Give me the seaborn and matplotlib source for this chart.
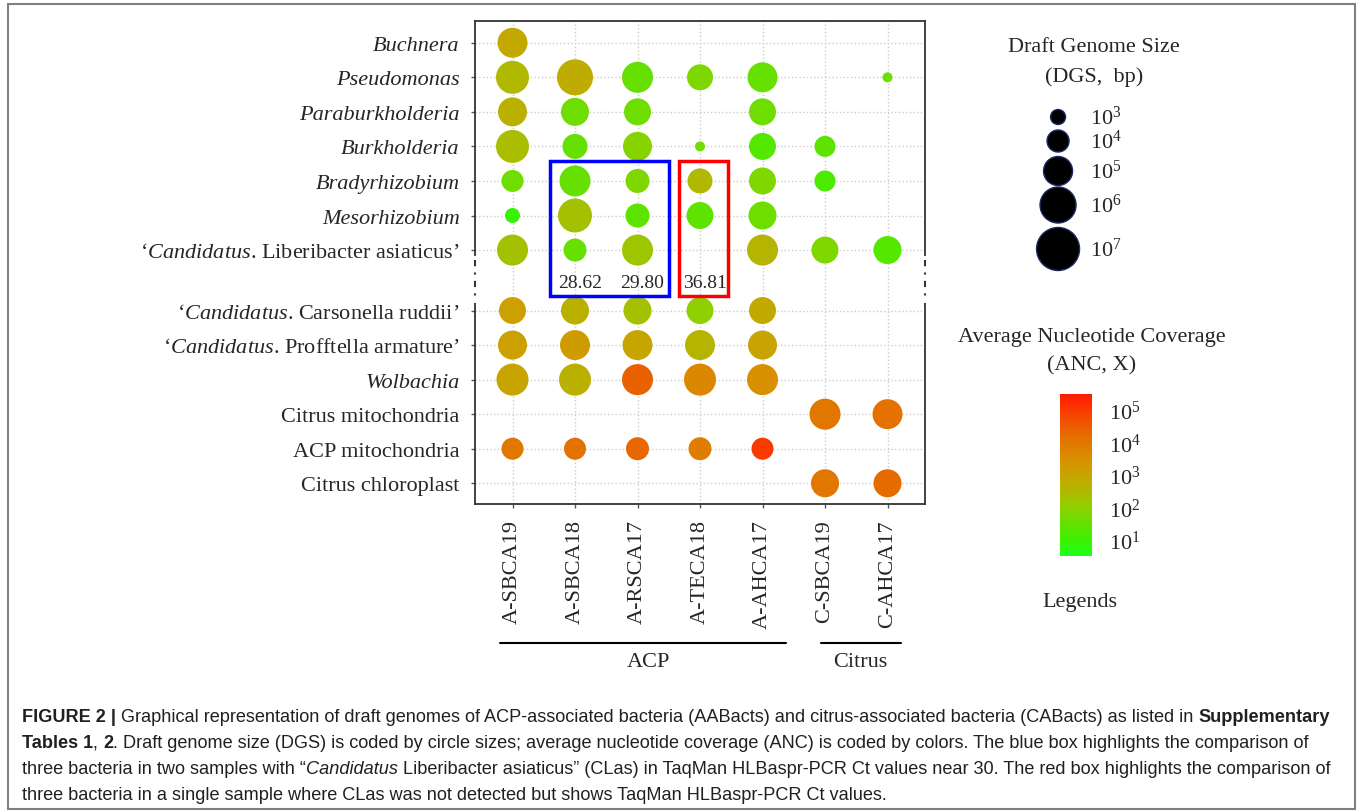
import matplotlib
matplotlib.use("Agg")
import matplotlib.pyplot as plt
import seaborn as sns
import pandas as pd
from matplotlib.colors import LinearSegmentedColormap, Normalize
from matplotlib.cm import ScalarMappable
from matplotlib.patches import Rectangle
from matplotlib.lines import Line2D

samples = ["A-SBCA19", "A-SBCA18", "A-RSCA17", "A-TECA18", "A-AHCA17", "C-SBCA19", "C-AHCA17"]
acp_samples = samples[:5]
citrus_samples = samples[5:]

bacteria = [
    "Buchnera",
    "Pseudomonas",
    "Paraburkholderia",
    "Burkholderia",
    "Bradyrhizobium",
    "Mesorhizobium",
    "‘$\\mathit{Candidatus}$. Liberibacter asiaticus’",
    "‘$\\mathit{Candidatus}$. Carsonella ruddii’",
    "‘$\\mathit{Candidatus}$. Profftella armature’",
    "Wolbachia",
    "Citrus mitochondria",
    "ACP mitochondria",
    "Citrus chloroplast",
]
italic_names = ["Buchnera", "Pseudomonas", "Paraburkholderia", "Burkholderia",
                "Bradyrhizobium", "Mesorhizobium", "Wolbachia"]

# log10 of draft genome size (bp), None = no draft genome
dgs_log = [
    [5.14, None, None, None, None, None, None],
    [5.57, 6.00, 5.29, 4.57, 5.14, None, 2.29],
    [5.00, 4.86, 4.71, None, 4.71, None, None],
    [5.57, 4.43, 5.00, 2.29, 4.71, 3.86, None],
    [4.00, 5.29, 4.29, 4.43, 4.71, 3.86, None],
    [3.00, 5.71, 4.29, 4.71, 4.86, None, None],
    [5.29, 4.14, 5.29, None, 5.29, 4.71, 4.86],
    [4.71, 4.86, 4.86, 4.71, 4.71, None, None],
    [5.00, 5.14, 5.14, 5.14, 5.00, None, None],
    [5.43, 5.43, 5.29, 5.43, 5.29, None, None],
    [None, None, None, None, None, 5.29, 5.14],
    [4.00, 4.00, 4.14, 4.14, 4.00, None, None],
    [None, None, None, None, None, 4.86, 4.86],
]

# log10 of average nucleotide coverage (X)
anc_log = [
    [2.9, None, None, None, None, None, None],
    [2.5, 2.8, 1.5, 1.8, 1.5, None, 1.6],
    [2.7, 1.6, 1.6, None, 1.6, None, None],
    [2.4, 1.5, 1.9, 1.6, 1.3, 1.4, None],
    [1.6, 1.5, 1.8, 2.5, 1.8, 1.2, None],
    [0.9, 2.3, 1.4, 1.4, 1.6, None, None],
    [2.3, 1.5, 2.2, None, 2.6, 1.8, 1.3],
    [3.1, 2.7, 2.3, 2.0, 2.9, None, None],
    [3.1, 3.2, 3.0, 2.6, 3.0, None, None],
    [3.0, 2.7, 4.4, 3.7, 3.5, None, None],
    [None, None, None, None, None, 4.0, 4.1],
    [4.0, 4.1, 4.3, 3.9, 5.0, None, None],
    [None, None, None, None, None, 4.0, 4.2],
]

ct_samples = ["A-SBCA18", "A-RSCA17", "A-TECA18"]
ct_values = ["28.62", "29.80", "36.81"]

dgs_legend = [3, 4, 5, 6, 7]
anc_ticks = [1, 2, 3, 4, 5]

W, H = 1358, 812


def fx(px):
    return px / W


def fy(py):
    return 1 - py / H


def size_pt2(v):
    # circle diameter grows with log10 genome size
    d = 15 + 7 * (v - 3)
    return (d * 0.72) ** 2


sns.set_style("white")
plt.rcParams["font.family"] = ["Liberation Serif", "DejaVu Serif"]
plt.rcParams["mathtext.fontset"] = "custom"
plt.rcParams["mathtext.rm"] = "Liberation Serif"
plt.rcParams["mathtext.it"] = "Liberation Serif:italic"
plt.rcParams["mathtext.bf"] = "Liberation Serif:bold"

cmap = LinearSegmentedColormap.from_list("anc", [
    (0.0, "#1cff1c"), (0.1, "#3cf000"), (0.2, "#66e000"), (0.3, "#90d000"),
    (0.4, "#b0b800"), (0.5, "#c8a400"), (0.6, "#d89000"), (0.7, "#e27800"),
    (0.8, "#ec5c00"), (0.9, "#fa3a00"), (1.0, "#ff1a00")])
anc_norm = Normalize(0.5, 5.5)


def row_pos(i):
    return i if i < 7 else i + 0.75


records = []
for i, name in enumerate(bacteria):
    for j, s in enumerate(samples):
        if dgs_log[i][j] is None:
            continue
        records.append({"bacterium": name, "sample": s, "x": j, "y": row_pos(i),
                        "dgs": dgs_log[i][j], "anc": anc_log[i][j]})
df = pd.DataFrame(records)

fig = plt.figure(figsize=(W / 100, H / 100), dpi=100)
ax = fig.add_axes([fx(475), fy(505), fx(925) - fx(475), fy(22) - fy(505)])

sizes = {v: size_pt2(v) for v in df["dgs"].unique()}
sns.scatterplot(data=df, x="x", y="y", hue="anc", size="dgs", palette=cmap,
                hue_norm=anc_norm, sizes=sizes, linewidth=0, legend=False,
                ax=ax, zorder=3)

ypos = [row_pos(i) for i in range(len(bacteria))]
ax.set_xlim(-0.6, len(samples) - 0.4)
ax.set_ylim(ypos[-1] + 0.6, -0.63)
ax.set_xticks(range(len(samples)))
ax.set_xticklabels(samples, rotation=90, fontsize=16)
ax.set_yticks(ypos)
ax.set_yticklabels(bacteria, fontsize=16)
for lab in ax.get_yticklabels():
    if lab.get_text() in italic_names:
        lab.set_fontstyle("italic")
ax.set_xlabel("")
ax.set_ylabel("")
ax.tick_params(axis="both", length=3, width=1, color="#555555", pad=8,
               bottom=True, left=True)
ax.grid(True, linestyle=":", color="#cccccc", linewidth=1)
ax.set_axisbelow(True)
for sp in ax.spines.values():
    sp.set_visible(True)
    sp.set_color("#333333")
    sp.set_linewidth(1.3)

# axis break marks on the left and right spines
def yfrac(py):
    return (505 - py) / (505 - 22)


for xa in (0, 1):
    ax.plot([xa, xa], [yfrac(259), yfrac(302)], color="white", lw=3,
            transform=ax.transAxes, clip_on=False, zorder=5)
    ax.plot([xa, xa], [yfrac(261), yfrac(300)], color="#333333", lw=1.5,
            linestyle=(0, (3, 3, 1, 3)), transform=ax.transAxes,
            clip_on=False, zorder=6)

# Ct values and highlight boxes
for s, v in zip(ct_samples, ct_values):
    ax.text(samples.index(s) + 0.08, 6.95, v, ha="center", va="center",
            fontsize=14, zorder=4)
ax.add_patch(Rectangle((0.6, 3.42), 1.9, 3.91, fill=False, edgecolor="#0000ff",
                       lw=2.5, zorder=4, clip_on=False))
ax.add_patch(Rectangle((2.66, 3.42), 0.79, 3.91, fill=False, edgecolor="#ff0000",
                       lw=2.5, zorder=4, clip_on=False))

# sample group brackets
fig.add_artist(Line2D([fx(500), fx(786)], [fy(644)] * 2, color="black", lw=1.5))
fig.add_artist(Line2D([fx(821), fx(901)], [fy(644)] * 2, color="black", lw=1.5))
fig.text(fx(648), fy(663), "ACP", ha="center", va="center", fontsize=16)
fig.text(fx(860), fy(663), "Citrus", ha="center", va="center", fontsize=16)

# genome size legend
fig.text(fx(1094), fy(47), "Draft Genome Size", ha="center", va="center", fontsize=16)
fig.text(fx(1094), fy(77), "(DGS,  bp)", ha="center", va="center", fontsize=16)
lax = fig.add_axes([fx(1030), fy(290), fx(1200) - fx(1030), fy(100) - fy(290)])
leg_y = [118, 142, 172, 206, 250]
leg_df = pd.DataFrame({"x": [0.165] * len(dgs_legend),
                       "y": [(290 - p) / 190 for p in leg_y],
                       "dgs": dgs_legend})
sns.scatterplot(data=leg_df, x="x", y="y", size="dgs",
                sizes={v: size_pt2(v) for v in dgs_legend}, color="black",
                edgecolor="#1c2a66", linewidth=1, legend=False, ax=lax,
                clip_on=False)
for yy, v in zip(leg_df["y"], dgs_legend):
    lax.text(0.35, yy, f"$10^{{{v}}}$", ha="left", va="center", fontsize=16)
lax.set_xlim(0, 1)
lax.set_ylim(0, 1)
lax.axis("off")

# coverage colour bar
fig.text(fx(1092), fy(338), "Average Nucleotide Coverage", ha="center", va="center", fontsize=16)
fig.text(fx(1092), fy(366), "(ANC, X)", ha="center", va="center", fontsize=16)
cax = fig.add_axes([fx(1060), fy(557), fx(1092) - fx(1060), fy(395) - fy(557)])
cbar = fig.colorbar(ScalarMappable(norm=anc_norm, cmap=cmap), cax=cax)
cbar.outline.set_visible(False)
cbar.set_ticks(anc_ticks)
cbar.set_ticklabels([f"$10^{{{t}}}$" for t in anc_ticks])
cax.tick_params(axis="y", which="major", length=0, pad=12, labelsize=16)
cax.set_yticks([1.5, 2.5, 3.5, 4.5], minor=True)
cax.tick_params(axis="y", which="minor", direction="in", color="white",
                length=4, width=1, left=True, right=True)
fig.text(fx(1080), fy(602), "Legends", ha="center", va="center", fontsize=16)

# outer frame
fig.add_artist(Rectangle((fx(8), fy(810)), fx(1355) - fx(8), fy(5) - fy(810),
                         transform=fig.transFigure, fill=False,
                         edgecolor="#808080", lw=1.5))

# caption
caption = [
    [("FIGURE 2 |", "bold", "normal"),
     (" Graphical representation of draft genomes of ACP-associated bacteria (AABacts) "
      "and citrus-associated bacteria (CABacts) as listed in ", "normal", "normal"),
     ("Supplementary", "bold", "normal")],
    [("Tables 1", "bold", "normal"), (", ", "normal", "normal"), ("2", "bold", "normal"),
     (". Draft genome size (DGS) is coded by circle sizes; average nucleotide coverage "
      "(ANC) is coded by colors. The blue box highlights the comparison of", "normal", "normal")],
    [("three bacteria in two samples with “", "normal", "normal"),
     ("Candidatus", "normal", "italic"),
     (" Liberibacter asiaticus” (CLas) in TaqMan HLBaspr-PCR Ct values near 30. "
      "The red box highlights the comparison of", "normal", "normal")],
    [("three bacteria in a single sample where CLas was not detected but shows "
      "TaqMan HLBaspr-PCR Ct values.", "normal", "normal")],
]
renderer = fig.canvas.get_renderer()


def run_width(txt, weight, style, size):
    t = fig.text(0, 0, "|" + txt + "|", fontsize=size, fontweight=weight,
                 fontstyle=style, family="Liberation Sans")
    b = fig.text(0, 0, "||", fontsize=size, fontweight=weight,
                 fontstyle=style, family="Liberation Sans")
    w = t.get_window_extent(renderer).width - b.get_window_extent(renderer).width
    t.remove()
    b.remove()
    return w


base = 10
line1 = sum(run_width(t, w, s, base) for t, w, s in caption[0])
cap_size = base * (1340 - 22) / line1
for k, runs in enumerate(caption):
    x = 22
    for txt, weight, style in runs:
        fig.text(fx(x), fy(718 + 26 * k), txt, fontsize=cap_size,
                 fontweight=weight, fontstyle=style, family="Liberation Sans",
                 color="#231f20", ha="left", va="center")
        x += run_width(txt, weight, style, cap_size)

fig.savefig("out.png", dpi=100)
